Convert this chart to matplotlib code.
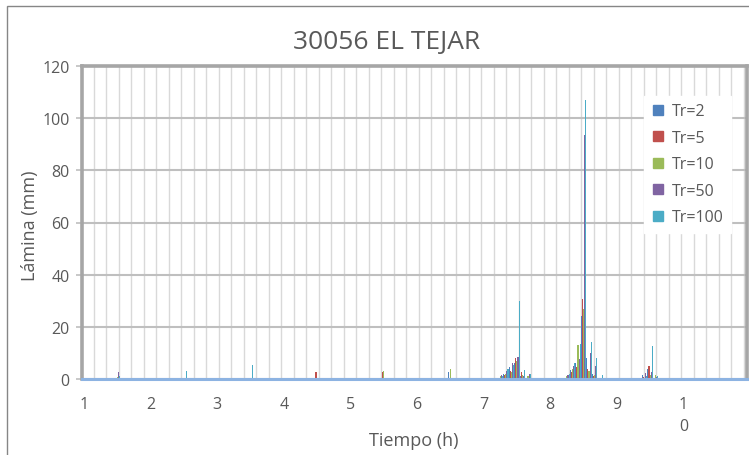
import matplotlib.pyplot as plt
import numpy as np
from matplotlib.lines import Line2D
from matplotlib.patches import Rectangle

# Lámina de lluvia por intervalo de 5 min para cada periodo de retorno
tiempo = [1.5, 2.5, 3.5, 4.5, 5.5, 6.5,
          7.25, 7.333, 7.417, 7.5, 7.583, 7.667,
          8.25, 8.333, 8.417, 8.5, 8.583, 8.667, 8.75,
          9.333, 9.417, 9.5, 9.583, 10.5]
tr2 = [0.3, 0.0, 0.4, 0.0, 0.3, 2.8,
       0.5, 2.0, 4.5, 6.0, 1.0, 0.5,
       0.5, 3.5, 6.0, 24.0, 8.0, 2.0, 0.3,
       0.0, 1.5, 4.0, 0.5, 0.0]
tr5 = [0.0, 0.0, 0.0, 2.8, 2.5, 0.0,
       0.3, 1.5, 3.0, 8.0, 2.5, 0.3,
       0.5, 2.5, 4.5, 30.5, 4.0, 1.0, 0.0,
       0.0, 0.8, 5.0, 0.3, 0.5]
tr10 = [0.6, 0.0, 0.0, 0.5, 2.9, 3.8,
        1.0, 2.0, 2.5, 7.0, 1.5, 1.0,
        1.0, 4.0, 13.0, 27.0, 3.0, 1.5, 0.5,
        0.5, 0.5, 1.5, 1.5, 0.0]
tr50 = [2.6, 0.0, 0.0, 0.0, 0.0, 0.0,
        1.5, 3.0, 6.0, 8.5, 1.0, 1.8,
        1.5, 5.0, 7.5, 93.5, 10.0, 5.0, 0.0,
        0.0, 2.4, 2.5, 0.6, 0.0]
tr100 = [1.0, 3.2, 5.3, 0.0, 0.0, 0.5,
         1.3, 4.0, 5.5, 29.8, 3.5, 2.0,
         2.0, 6.0, 13.5, 107.0, 14.0, 8.0, 1.5,
         0.3, 1.0, 12.7, 1.2, 0.0]

series = ['Tr=2', 'Tr=5', 'Tr=10', 'Tr=50', 'Tr=100']
valores = [tr2, tr5, tr10, tr50, tr100]
colores = ['#4f81bd', '#c0504d', '#9bbb59', '#8064a2', '#4bacc6']
etiquetas_x = ['1', '2', '3', '4', '5', '6', '7', '8', '9', '1\n0']

plt.rcParams['font.family'] = ['Open Sans', 'DejaVu Sans']
gris_txt = '#595959'

W, H = 749, 456
fig = plt.figure(figsize=(W / 100, H / 100), dpi=100)
fig.patch.set_facecolor('white')

# marco exterior del gráfico
fig.patches.append(Rectangle((7 / W, -0.1), 1.2, 1 - 7 / H + 0.1,
                             transform=fig.transFigure, fill=False,
                             edgecolor='#868686', linewidth=1.0))

x0, x1, y0, y1 = 82, 747, 67, 380
ax = fig.add_axes([x0 / W, 1 - y1 / H, (x1 - x0) / W, (y1 - y0) / H])

dt = 1 / 12
w = dt / 5
t = np.array(tiempo)
for j, (vals, c) in enumerate(zip(valores, colores)):
    ax.bar(t + (j - 2) * w, vals, width=w, color=c, linewidth=0, zorder=3)

ax.set_xlim(0.97, 10.955)
ax.set_ylim(0, 120)

# rejilla horizontal
ax.set_yticks(np.arange(0, 121, 20))
ax.yaxis.grid(True, color='#bfbfbf', linewidth=1.5, zorder=0)

# rejilla vertical fina
paso = 12.506 / 66.6
for xv in np.arange(1.1456, 10.95, paso):
    ax.axvline(xv, color='#d9d9d9', linewidth=1.0, zorder=1)

ax.set_xticks(range(1, 11))
ax.set_xticklabels(etiquetas_x, va='top', linespacing=1.55)
ax.tick_params(axis='x', length=0, pad=12, labelsize=11.5, colors=gris_txt)
ax.tick_params(axis='y', length=4, width=1.2, color='#bfbfbf', pad=5,
               labelsize=11.5, labelcolor=gris_txt)

for s in ['left', 'top', 'right']:
    ax.spines[s].set_color('#a6a6a6')
    ax.spines[s].set_linewidth(2.6)
ax.spines['bottom'].set_color('#8db3e2')
ax.spines['bottom'].set_linewidth(2.2)
ax.spines['bottom'].set_zorder(4)

fig.text(387 / W, 1 - 43 / H, '30056 EL TEJAR', ha='center', va='center',
         fontsize=19, color=gris_txt)
fig.text(414 / W, 1 - 441 / H, 'Tiempo (h)', ha='center', va='center',
         fontsize=13, color=gris_txt)
fig.text(30 / W, 1 - 226 / H, 'Lámina (mm)', ha='center', va='center',
         rotation=90, fontsize=13, color=gris_txt)

handles = [Line2D([], [], marker='s', linestyle='none', markersize=7,
                  markerfacecolor=c, markeredgecolor=c) for c in colores]
leg = ax.legend(handles, series, loc='upper left',
                bbox_to_anchor=(636 / W, 1 - 89 / H), bbox_transform=fig.transFigure,
                frameon=True, fancybox=False, framealpha=1, edgecolor='white',
                facecolor='white', fontsize=11.5, labelspacing=0.66,
                handlelength=0.8, handletextpad=0.5, borderpad=0.45)
for txt in leg.get_texts():
    txt.set_color(gris_txt)
leg.set_zorder(5)

fig.savefig('out.png', dpi=100)
